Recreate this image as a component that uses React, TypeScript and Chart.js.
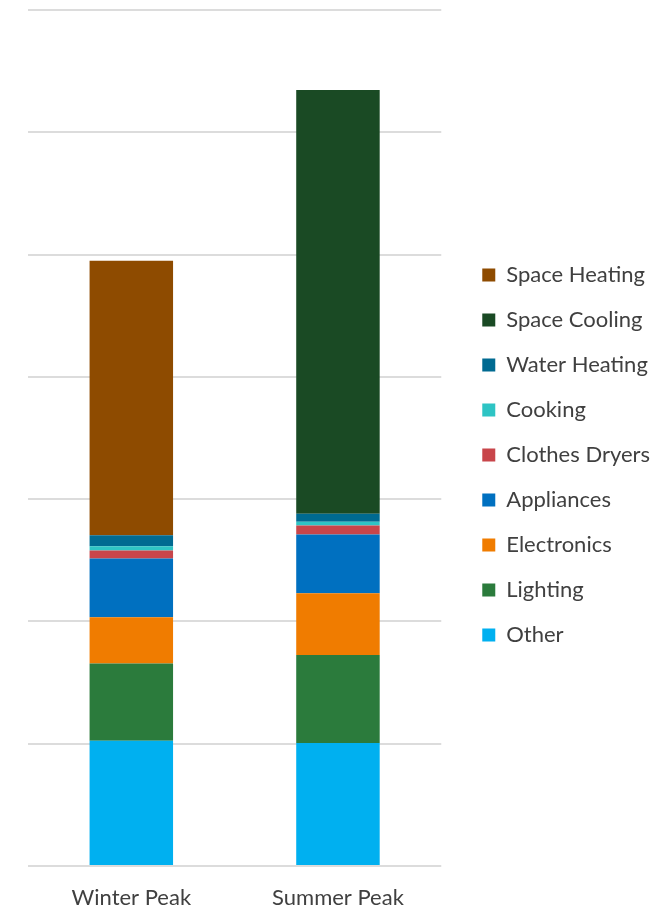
import React, { useEffect, useRef } from "react";
import { Chart, registerables } from "chart.js";

Chart.register(...registerables);

const categories = ["Winter Peak", "Summer Peak"];
const seriesNames = [
  "Other",
  "Lighting",
  "Electronics",
  "Appliances",
  "Clothes Dryers",
  "Cooking",
  "Water Heating",
  "Space Cooling",
  "Space Heating",
];
const otherValues = [20.5, 20.1];
const lightingValues = [12.6, 14.4];
const electronicsValues = [7.6, 10.1];
const appliancesValues = [9.6, 9.6];
const dryersValues = [1.3, 1.5];
const cookingValues = [0.7, 0.6];
const waterHeatingValues = [1.8, 1.3];
const spaceCoolingValues = [0, 69.3];
const spaceHeatingValues = [44.9, 0];
const seriesColors = [
  "#00B0F0",
  "#2B7B3C",
  "#F07C00",
  "#0070C0",
  "#C8454A",
  "#2EC4C4",
  "#006A91",
  "#1A4A24",
  "#8E4B00",
];
const yMax = 140;
const yStep = 20;

const FONT = "Lato, 'Open Sans', sans-serif";
const TEXT_COLOR = "#404040";

export default function App() {
  const canvasRef = useRef<HTMLCanvasElement | null>(null);

  useEffect(() => {
    const canvas = canvasRef.current;
    if (!canvas) return;
    const values = [
      otherValues,
      lightingValues,
      electronicsValues,
      appliancesValues,
      dryersValues,
      cookingValues,
      waterHeatingValues,
      spaceCoolingValues,
      spaceHeatingValues,
    ];
    const chart = new Chart(canvas, {
      type: "bar",
      data: {
        labels: categories,
        datasets: seriesNames.map((name, i) => ({
          label: name,
          data: values[i],
          backgroundColor: seriesColors[i],
          borderWidth: 0,
          barPercentage: 0.404,
          categoryPercentage: 1,
          stack: "s",
        })),
      },
      options: {
        animation: false,
        responsive: false,
        maintainAspectRatio: false,
        layout: { padding: { top: 0, bottom: 0, left: 0, right: 12 } },
        plugins: {
          tooltip: { enabled: false },
          title: {
            display: true,
            text: " ",
            padding: 0,
            font: { size: 10, lineHeight: 1 },
          },
          legend: {
            position: "right",
            reverse: true,
            maxWidth: 320,
            labels: {
              boxWidth: 13,
              boxHeight: 13,
              padding: 23,
              color: TEXT_COLOR,
              font: { family: FONT, size: 22 },
            },
          },
        },
        scales: {
          x: {
            stacked: true,
            grid: { display: false, drawTicks: false },
            border: { display: false },
            ticks: {
              color: TEXT_COLOR,
              font: { family: FONT, size: 22 },
              padding: 19,
              maxRotation: 0,
            },
            afterFit: (scale: any) => {
              scale.height = 44;
            },
          },
          y: {
            stacked: true,
            min: 0,
            max: yMax,
            grid: { color: "#dcdcdc", lineWidth: 2, drawTicks: false },
            border: { display: false },
            ticks: { display: false, stepSize: yStep },
            afterFit: (scale: any) => {
              scale.width = 28;
            },
          },
          spacer: {
            type: "linear",
            position: "right",
            display: true,
            grid: { display: false, drawTicks: false },
            border: { display: false },
            ticks: { display: false },
            afterFit: (scale: any) => {
              scale.width = 18;
            },
          },
        },
      },
    });
    return () => chart.destroy();
  }, []);

  return (
    <div style={{ position: "absolute", left: 0, top: 0, width: 672, height: 910, background: "#ffffff" }}>
      <canvas ref={canvasRef} width={672} height={910} style={{ width: 672, height: 910, display: "block" }} />
    </div>
  );
}
